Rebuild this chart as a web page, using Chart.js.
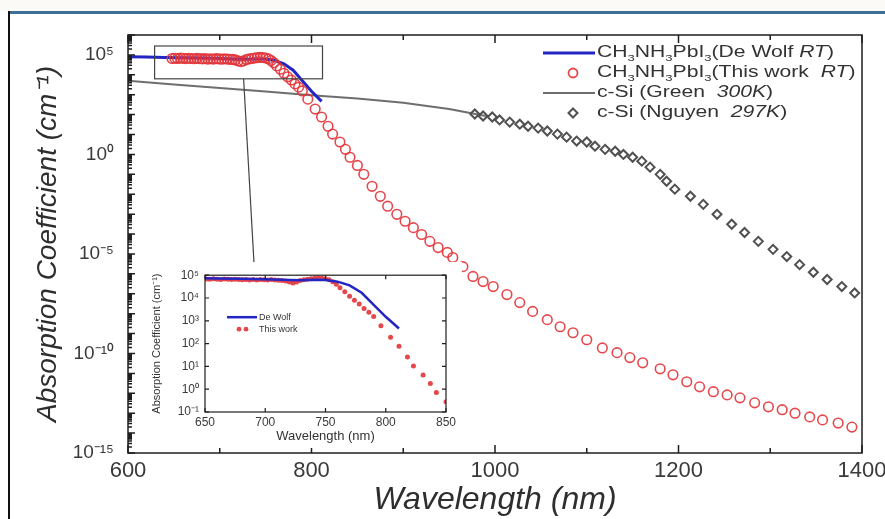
<!DOCTYPE html>
<html>
<head>
<meta charset="utf-8">
<script src="https://cdn.jsdelivr.net/npm/chart.js@4.4.1/dist/chart.umd.min.js"></script>
<style>
  body { margin: 0; background: #fff; }
  #wrap { position: relative; width: 885px; height: 519px; overflow: hidden; background: #fff; }
  #above { position: absolute; left: 0; top: 0; width: 885px; height: 11px; background: #fbfaf6; }
  #topline { position: absolute; left: 8px; top: 11px; width: 877px; height: 3px; background: #3f6f96; }
  #leftline { position: absolute; left: 8px; top: 11px; width: 2px; height: 508px; background: #111; }
  #main { position: absolute; left: 0; top: 0; }
  #inset { position: absolute; left: 150px; top: 262px; background: #fff; }
</style>
</head>
<body>
<div id="wrap">
  <div id="above"></div>
  <div id="topline"></div>
  <div id="leftline"></div>
  <canvas id="main" width="885" height="519"></canvas>
  <canvas id="inset" width="312" height="186"></canvas>
</div>
<script>
// data (wavelength nm / absorption cm^-1)
const redNm = [
  648, 651, 654, 657, 660, 663, 666, 669, 672, 675,
  678, 681, 684, 687, 690, 693, 696, 699, 702, 705,
  708, 711, 714, 717, 720, 723, 726, 729, 732, 735,
  738, 741, 744, 747,
  750, 753, 756, 759, 762, 766, 770, 774, 778, 782,
  786, 790, 796, 804, 811, 818, 823, 831, 837, 842,
  850, 857, 866, 875, 883, 893, 902, 911, 920, 929,
  938, 948, 954, 965, 976, 987, 998, 1013, 1027, 1041,
  1057, 1071, 1085, 1100, 1117, 1133, 1147, 1161, 1180, 1194,
  1209, 1223, 1238, 1253, 1267, 1283, 1298, 1313, 1327, 1343,
  1357, 1374, 1389
]
const redAbs = [
  6.6e4, 6.8e4, 6.6e4, 6.9e4, 6.7e4, 6.5e4, 6.8e4, 6.6e4, 6.4e4, 6.7e4,
  6.5e4, 6.3e4, 6.5e4, 6.2e4, 6.4e4, 6.2e4, 6.5e4, 6.3e4, 6.1e4, 6.4e4,
  6.2e4, 6.0e4, 5.9e4, 5.6e4, 5.0e4, 4.6e4, 5.0e4, 5.8e4, 6.3e4, 6.6e4,
  7.0e4, 7.3e4, 7.5e4, 7.4e4,
  7.0e4, 6.3e4, 5.2e4, 4.0e4, 2.8e4, 1.9e4, 1.2e4, 7.9e3, 5.5e3, 3.5e3,
  2.4e3, 1.55e3, 6.0e2, 1.9e2, 7.6e1, 2.6e1, 1.05e1, 4.2, 1.8, 0.72,
  0.28, 0.1, 2.5e-2, 7.9e-3, 2.5e-3, 9.8e-4, 4.4e-4, 2.1e-4, 9.5e-5, 4.3e-5,
  2.1e-5, 1.2e-5, 6.6e-6, 2.3e-6, 7.4e-7, 4.1e-7, 2.3e-7, 9.1e-8, 3.6e-8, 1.3e-8,
  5.0e-9, 2.2e-9, 1.1e-9, 4.9e-10, 1.9e-10, 1.1e-10, 6.2e-11, 3.4e-11, 1.7e-11, 8.5e-12,
  3.8e-12, 2.1e-12, 1.2e-12, 8.3e-13, 5.9e-13, 3.3e-13, 2.1e-13, 1.5e-13, 1.0e-13, 6.5e-14,
  4.6e-14, 3.2e-14, 2.0e-14
]

const blueNm = [600, 620, 640, 660, 680, 700, 720, 730, 740, 750, 760, 770, 780, 790, 800, 811]
const blueAbs = [8.0e4, 7.8e4, 7.5e4, 7.2e4, 6.9e4, 6.6e4, 6.1e4, 6.0e4, 6.3e4, 6.2e4, 5.2e4, 3.6e4, 1.7e4, 5.0e3, 1.5e3, 4.6e2]

const greenNm = [600, 650, 700, 750, 800, 850, 900, 950, 990]
const greenAbs = [5.0e3, 3.3e3, 2.2e3, 1.45e3, 9.5e2, 6.5e2, 4.0e2, 1.9e2, 8.5e1]

const nguyenNm = [
  978, 987, 997, 1005, 1016, 1027, 1036, 1047, 1057, 1068,
  1078, 1089, 1100, 1109, 1120, 1131, 1140, 1150, 1160, 1169,
  1180, 1187, 1196, 1213, 1227, 1242, 1258, 1272, 1287, 1303,
  1318, 1332, 1347, 1362, 1378, 1392
]
const nguyenAbs = [
  107, 85, 76, 54, 42, 33, 26, 21, 15, 10.5,
  7.4, 4.7, 4.2, 2.6, 1.8, 1.45, 1.0, 0.72, 0.46, 0.23,
  0.10, 0.045, 0.018, 7.9e-3, 3.1e-3, 9.8e-4, 3.1e-4, 1.2e-4, 4.3e-5, 1.7e-5,
  7.4e-6, 2.9e-6, 1.2e-6, 5.2e-7, 2.3e-7, 1.1e-7
]

const xTicks = [600, 700, 800, 900, 1000, 1100, 1200, 1300, 1400]
const yTicks = [1e-15, 1e-14, 1e-13, 1e-12, 1e-11, 1e-10, 1e-9, 1e-8, 1e-7, 1e-6, 1e-5,
  1e-4, 1e-3, 1e-2, 1e-1, 1, 1e1, 1e2, 1e3, 1e4, 1e5, 1e6]
const insetXTicks = [650, 700, 750, 800, 850]
const insetYTicks = [1e-1, 1, 1e1, 1e2, 1e3, 1e4, 1e5]

// zoom box in the main plot and the line that leads to the inset
const zoomBoxNm = [629, 812]
const zoomBoxAbs = [6.3e3, 2.8e5]
const connectorNm = [726, 738]
const connectorAbs = [6.3e3, 1e-6]

const legendRows = [
  [['CH'], ['3', 'sub'], ['NH'], ['3', 'sub'], ['PbI'], ['3', 'sub'], ['(De Wolf '], ['RT', 'it'], [')']],
  [['CH'], ['3', 'sub'], ['NH'], ['3', 'sub'], ['PbI'], ['3', 'sub'], ['(This work  '], ['RT', 'it'], [')']],
  [['c-Si (Green  '], ['300K', 'it'], [')']],
  [['c-Si (Nguyen  '], ['297K', 'it'], [')']]
]

const FONT = '"Liberation Sans", Arial, Helvetica, sans-serif'
Chart.defaults.font.family = FONT

const supMap = { '0': '⁰', '1': '¹', '2': '²', '3': '³', '4': '⁴', '5': '⁵', '6': '⁶', '7': '⁷', '8': '⁸', '9': '⁹', '-': '⁻' }
function pow10Label(v) {
  const e = Math.round(Math.log10(v))
  return '10' + String(e).split('').map(c => supMap[c]).join('')
}

function pts(xs, ys) {
  return xs.map((x, i) => ({ x: x, y: ys[i] }))
}

function drawRich(ctx, x, y, segs, size, sx) {
  ctx.save()
  ctx.translate(x, y)
  ctx.scale(sx, 1)
  ctx.textBaseline = 'middle'
  ctx.textAlign = 'left'
  let cx = 0
  segs.forEach(s => {
    const kind = s[1]
    const fs = kind === 'sub' ? size * 0.62 : size
    ctx.font = (kind === 'it' ? 'italic ' : '') + fs + 'px ' + FONT
    ctx.fillText(s[0], cx, kind === 'sub' ? size * 0.3 : 0)
    cx += ctx.measureText(s[0]).width
  })
  ctx.restore()
}

// no extra room for the end tick labels: the plot box is placed by hand
function noSidePad(s) {
  s.paddingLeft = 0
  s.paddingRight = 0
}

const redColor = 'rgba(226, 52, 56, 0.9)'
const blueColor = '#2326c4'
const greyColor = '#6e6e6e'
const diamondColor = '#505050'

// frame, inward ticks, zoom box and legend for the main plot
const mainMarks = {
  id: 'mainMarks',
  afterDatasetsDraw(chart) {
    const { ctx, chartArea: a, scales: { x, y } } = chart
    ctx.save()
    ctx.strokeStyle = '#1e1e1e'
    ctx.lineWidth = 1.5
    ctx.strokeRect(a.left, a.top, a.right - a.left, a.bottom - a.top)
    ctx.beginPath()
    xTicks.forEach(v => {
      const px = x.getPixelForValue(v)
      const len = v % 200 === 0 ? 8 : 5
      ctx.moveTo(px, a.bottom); ctx.lineTo(px, a.bottom - len)
      ctx.moveTo(px, a.top); ctx.lineTo(px, a.top + len)
    })
    yTicks.forEach((v, i) => {
      const py = y.getPixelForValue(v)
      ctx.moveTo(a.left, py); ctx.lineTo(a.left + 7, py)
      if (i < yTicks.length - 1) {
        for (let m = 2; m < 10; m++) {
          const pm = y.getPixelForValue(v * m)
          ctx.moveTo(a.left, pm); ctx.lineTo(a.left + 4, pm)
        }
      }
    })
    ctx.stroke()

    // zoom box + connector
    ctx.strokeStyle = '#444'
    ctx.lineWidth = 1.2
    const bx0 = x.getPixelForValue(zoomBoxNm[0]), bx1 = x.getPixelForValue(zoomBoxNm[1])
    const by0 = y.getPixelForValue(zoomBoxAbs[1]), by1 = y.getPixelForValue(zoomBoxAbs[0])
    ctx.strokeRect(bx0, by0, bx1 - bx0, by1 - by0)
    ctx.beginPath()
    ctx.moveTo(x.getPixelForValue(connectorNm[0]), y.getPixelForValue(connectorAbs[0]))
    ctx.lineTo(x.getPixelForValue(connectorNm[1]), y.getPixelForValue(connectorAbs[1]))
    ctx.stroke()

    // legend
    const lx = a.right - 319
    const tx = a.right - 265
    const mx = a.right - 289
    ctx.fillStyle = '#333'
    legendRows.forEach((row, i) => {
      const ry = a.top + 18 + i * 20
      if (i === 0 || i === 2) {
        ctx.strokeStyle = i === 0 ? blueColor : greyColor
        ctx.lineWidth = i === 0 ? 3 : 2
        ctx.beginPath(); ctx.moveTo(lx, ry); ctx.lineTo(lx + 52, ry); ctx.stroke()
      } else if (i === 1) {
        ctx.strokeStyle = redColor; ctx.lineWidth = 1.8
        ctx.beginPath(); ctx.arc(mx, ry, 4.5, 0, Math.PI * 2); ctx.stroke()
      } else {
        ctx.strokeStyle = diamondColor; ctx.lineWidth = 2
        ctx.beginPath()
        ctx.moveTo(mx, ry - 4.5); ctx.lineTo(mx + 4.5, ry); ctx.lineTo(mx, ry + 4.5); ctx.lineTo(mx - 4.5, ry)
        ctx.closePath(); ctx.stroke()
      }
      drawRich(ctx, tx, ry, row, 16, 1.32)
    })
    ctx.restore()
  }
}

new Chart(document.getElementById('main'), {
  type: 'scatter',
  data: {
    datasets: [
      {
        label: 'This work RT',
        data: pts(redNm, redAbs),
        showLine: false,
        pointStyle: 'circle',
        pointRadius: 4.8,
        borderColor: redColor,
        backgroundColor: 'rgba(0,0,0,0)',
        borderWidth: 1.6,
        order: 0
      },
      {
        label: 'De Wolf RT',
        data: pts(blueNm, blueAbs),
        showLine: true,
        pointRadius: 0,
        borderColor: blueColor,
        borderWidth: 3,
        order: 1
      },
      {
        label: 'Nguyen 297K',
        data: pts(nguyenNm, nguyenAbs),
        showLine: false,
        pointStyle: 'rectRot',
        pointRadius: 4.5,
        borderColor: diamondColor,
        backgroundColor: 'rgba(0,0,0,0)',
        borderWidth: 2,
        order: 2
      },
      {
        label: 'Green 300K',
        data: pts(greenNm, greenAbs),
        showLine: true,
        pointRadius: 0,
        borderColor: greyColor,
        borderWidth: 2,
        order: 3
      }
    ]
  },
  options: {
    responsive: false,
    animation: false,
    layout: { padding: { left: 20, top: 35, right: 23, bottom: 0 } },
    plugins: { legend: { display: false }, tooltip: { enabled: false } },
    scales: {
      x: {
        type: 'linear',
        min: 600,
        max: 1400,
        grid: { display: false, drawTicks: false },
        border: { display: false },
        ticks: {
          stepSize: 100,
          autoSkip: false,
          maxRotation: 0,
          padding: 5,
          color: '#3a3a3a',
          font: { size: 22 },
          callback: v => (v % 200 === 0 ? String(v) : '')
        },
        title: {
          display: true,
          text: 'Wavelength (nm)',
          color: '#2e2e2e',
          font: { size: 32, style: 'italic' },
          padding: { top: 0, bottom: 0 }
        },
        afterFit: s => { s.height = 66; noSidePad(s) }
      },
      y: {
        type: 'logarithmic',
        min: 1e-15,
        max: 1e6,
        grid: { display: false, drawTicks: false },
        border: { display: false },
        afterBuildTicks: s => { s.ticks = yTicks.map(v => ({ value: v })) },
        ticks: {
          autoSkip: false,
          padding: 14,
          color: '#3a3a3a',
          font: { size: 19 },
          callback: v => (Math.round(Math.log10(v)) % 5 === 0 ? pow10Label(v) : '')
        },
        title: {
          display: true,
          text: 'Absorption Coefficient (cm⁻¹)',
          color: '#2e2e2e',
          font: { size: 28, style: 'italic' },
          padding: { top: 11, bottom: 0 }
        },
        afterFit: s => { s.width = 108 }
      }
    }
  },
  plugins: [mainMarks]
})

// inset
const insetMarks = {
  id: 'insetMarks',
  afterDatasetsDraw(chart) {
    const { ctx, chartArea: a, scales: { x, y } } = chart
    ctx.save()
    ctx.strokeStyle = '#1e1e1e'
    ctx.lineWidth = 1.2
    ctx.strokeRect(a.left, a.top, a.right - a.left, a.bottom - a.top)
    ctx.beginPath()
    insetXTicks.forEach(v => {
      const px = x.getPixelForValue(v)
      ctx.moveTo(px, a.bottom); ctx.lineTo(px, a.bottom - 4)
      ctx.moveTo(px, a.top); ctx.lineTo(px, a.top + 4)
    })
    insetYTicks.forEach(v => {
      const py = y.getPixelForValue(v)
      ctx.moveTo(a.left, py); ctx.lineTo(a.left + 4, py)
      ctx.moveTo(a.right, py); ctx.lineTo(a.right - 4, py)
    })
    ctx.stroke()

    // inset legend
    const ly = a.top + 42
    ctx.strokeStyle = blueColor
    ctx.lineWidth = 2.5
    ctx.beginPath(); ctx.moveTo(a.left + 22, ly); ctx.lineTo(a.left + 52, ly); ctx.stroke()
    ctx.fillStyle = redColor
    ;[a.left + 34, a.left + 41].forEach(px => {
      ctx.beginPath(); ctx.arc(px, ly + 12, 2.4, 0, Math.PI * 2); ctx.fill()
    })
    ctx.fillStyle = '#333'
    ctx.font = '9px ' + FONT
    ctx.textBaseline = 'middle'
    ctx.fillText('De Wolf', a.left + 54, ly)
    ctx.fillText('This work', a.left + 54, ly + 12)
    ctx.restore()
  }
}

new Chart(document.getElementById('inset'), {
  type: 'scatter',
  data: {
    datasets: [
      {
        label: 'De Wolf',
        data: pts(blueNm, blueAbs),
        showLine: true,
        pointRadius: 0,
        borderColor: blueColor,
        borderWidth: 2.5,
        order: 0
      },
      {
        label: 'This work',
        data: pts(redNm, redAbs),
        showLine: false,
        pointStyle: 'circle',
        pointRadius: 2.5,
        borderWidth: 0,
        backgroundColor: redColor,
        order: 1
      }
    ]
  },
  options: {
    responsive: false,
    animation: false,
    layout: { padding: { left: 0, top: 13, right: 16, bottom: 0 } },
    plugins: { legend: { display: false }, tooltip: { enabled: false } },
    scales: {
      x: {
        type: 'linear',
        min: 650,
        max: 850,
        grid: { display: false, drawTicks: false },
        border: { display: false },
        ticks: { stepSize: 50, autoSkip: false, maxRotation: 0, padding: 3, color: '#3a3a3a', font: { size: 12 } },
        title: { display: true, text: 'Wavelength (nm)', color: '#333', font: { size: 13 }, padding: { top: 0, bottom: 4 } },
        afterFit: s => { s.height = 36; noSidePad(s) }
      },
      y: {
        type: 'logarithmic',
        min: 1e-1,
        max: 1e5,
        grid: { display: false, drawTicks: false },
        border: { display: false },
        afterBuildTicks: s => { s.ticks = insetYTicks.map(v => ({ value: v })) },
        ticks: { autoSkip: false, padding: 6, color: '#3a3a3a', font: { size: 12 }, callback: v => pow10Label(v) },
        title: { display: true, text: 'Absorption Coefficient (cm⁻¹)', color: '#333', font: { size: 11 }, padding: { top: 0, bottom: 0 } },
        afterFit: s => { s.width = 55 }
      }
    }
  },
  plugins: [insetMarks]
})
</script>
</body>
</html>
